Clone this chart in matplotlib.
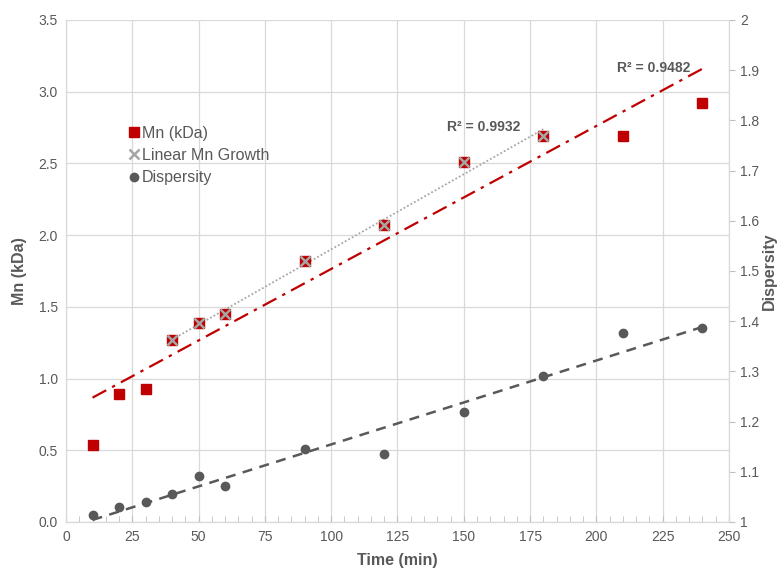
import numpy as np
import matplotlib
matplotlib.use('Agg')
import matplotlib.pyplot as plt
from matplotlib.ticker import MultipleLocator, FuncFormatter

red_color = '#c00000'
cross_color = '#a6a6a6'
disp_color = '#595959'
text_color = '#595959'
grid_color = '#d9d9d9'

time_min = [10, 20, 30, 40, 50, 60, 90, 120, 150, 180, 210, 240]
mn_kda = [0.54, 0.89, 0.93, 1.27, 1.39, 1.45, 1.82, 2.07, 2.51, 2.69, 2.69, 2.92]
linear_time = [40, 50, 60, 90, 120, 150, 180]
linear_mn = [1.27, 1.39, 1.45, 1.82, 2.07, 2.51, 2.69]
dispersity = [1.013, 1.029, 1.039, 1.056, 1.091, 1.072, 1.146, 1.135, 1.219, 1.291, 1.376, 1.387]

plt.rcParams['font.family'] = ['Liberation Sans', 'DejaVu Sans']

fig = plt.figure(figsize=(7.83, 5.76), dpi=100)
ax = fig.add_axes([0.0843, 0.0938, 0.8467, 0.8715])
ax2 = ax.twinx()

# trendlines
t = np.array(time_min)
fit = np.polyfit(t, mn_kda, 1)
ax.plot([t[0], t[-1]], np.polyval(fit, [t[0], t[-1]]), color=red_color, lw=1.6,
        dashes=(7, 3, 1.5, 3), zorder=2)
lt = np.array(linear_time)
fit_l = np.polyfit(lt, linear_mn, 1)
ax.plot([lt[0], lt[-1]], np.polyval(fit_l, [lt[0], lt[-1]]), color=cross_color, lw=1.3,
        ls=(0, (1, 1.2)), zorder=2)

ax.plot(time_min, mn_kda, 's', color=red_color, ms=7, label='Mn (kDa)', zorder=3)
ax.plot(linear_time, linear_mn, 'x', color=cross_color, ms=7, mew=1.8,
        label='Linear Mn Growth', zorder=4)

fit_d = np.polyfit(t, dispersity, 1)
ax2.plot([t[0], t[-1]], np.polyval(fit_d, [t[0], t[-1]]), color=disp_color, lw=1.8,
         dashes=(4, 3), zorder=2)
ax2.plot(time_min, dispersity, 'o', color=disp_color, ms=6, label='Dispersity', zorder=3)

ax.text(157.5, 2.755, 'R² = 0.9932', ha='center', va='center', fontsize=10,
        fontweight='bold', color=text_color)
ax.text(221.5, 3.166, 'R² = 0.9482', ha='center', va='center', fontsize=10,
        fontweight='bold', color=text_color)

ax.set_xlim(0, 250)
ax.set_ylim(0, 3.5)
ax2.set_ylim(1, 2)
ax.xaxis.set_major_locator(MultipleLocator(25))
ax.xaxis.set_minor_locator(MultipleLocator(5))
ax.yaxis.set_major_locator(MultipleLocator(0.5))
ax.yaxis.set_major_formatter(FuncFormatter(lambda v, p: f'{v:.1f}'))
ax2.yaxis.set_major_locator(MultipleLocator(0.1))
ax2.yaxis.set_major_formatter(FuncFormatter(lambda v, p: f'{v:g}'))

ax.grid(True, color=grid_color, lw=0.9)
ax.set_axisbelow(True)
for a in (ax, ax2):
    for s in a.spines.values():
        s.set_color(grid_color)
    a.spines['top'].set_visible(False)

ax.tick_params(axis='y', length=0, labelsize=10, labelcolor=text_color, pad=6)
ax.tick_params(axis='x', which='both', direction='in', length=4, color='#bfbfbf',
               labelsize=10, labelcolor=text_color, pad=6)
ax2.tick_params(axis='y', direction='out', length=4, color='#bfbfbf', labelsize=10,
                labelcolor=text_color, pad=4)

ax.set_xlabel('Time (min)', fontsize=11.5, fontweight='bold', color=text_color, labelpad=6)
ax.set_ylabel('Mn (kDa)', fontsize=11.5, fontweight='bold', color=text_color, labelpad=8)
ax2.set_ylabel('Dispersity', fontsize=11.5, fontweight='bold', color=text_color, labelpad=2)

h1, l1 = ax.get_legend_handles_labels()
h2, l2 = ax2.get_legend_handles_labels()
leg = ax2.legend(h1 + h2, l1 + l2, loc='upper left', bbox_to_anchor=(0.085, 0.802),
                 frameon=False, fontsize=11.5, handlelength=0.6, handletextpad=0.2,
                 labelspacing=0.45, borderaxespad=0)
for txt in leg.get_texts():
    txt.set_color(text_color)

fig.savefig('out.png', dpi=100)
